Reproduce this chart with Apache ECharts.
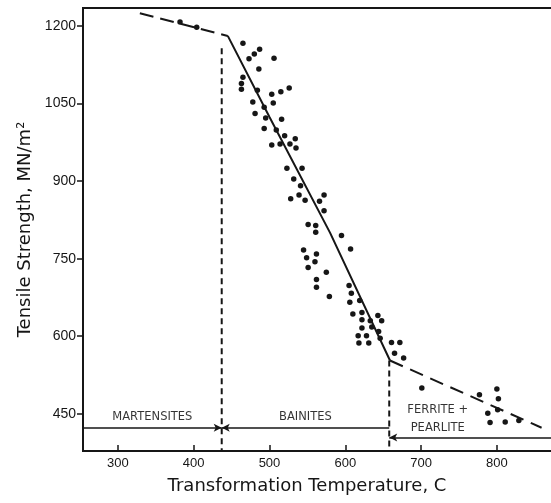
<!DOCTYPE html>
<html>
<head>
<meta charset="utf-8">
<title>Tensile strength vs transformation temperature</title>
<script src="https://cdn.jsdelivr.net/npm/echarts@6.0.0/dist/echarts.min.js"></script>
<style>
  html, body { margin: 0; padding: 0; background: #fff; }
  #chart { width: 551px; height: 503px; }
</style>
</head>
<body>
<div id="chart"></div>
<script>
  // tick labels
  var tempTicks = [300, 400, 500, 600, 700, 800]
  var strengthTicks = [450, 600, 750, 900, 1050, 1200]

  // test points, temperature (C) and tensile strength (MN/m2)
  var pointTemp = [
    382, 404, 465, 487, 480, 473, 506, 486, 465, 463,
    463, 484, 503, 515, 526, 478, 505, 493, 481, 495,
    516, 493, 509, 520, 534, 503, 514, 527, 535, 523,
    543, 532, 541, 539, 528, 547, 566, 572, 572, 551,
    561, 561, 595, 607, 545, 562, 549, 560, 551, 575,
    562, 562, 579, 605, 608, 606, 619, 610, 622, 622,
    643, 648, 622, 633, 635, 617, 628, 644, 646, 618,
    631, 661, 672, 665, 677, 701, 777, 800, 802, 801,
    788, 791, 811, 829
  ]
  var pointStrength = [
    1208, 1198, 1167, 1155, 1146, 1137, 1138, 1117, 1101, 1089,
    1078, 1076, 1068, 1073, 1080, 1053, 1051, 1043, 1031, 1022,
    1020, 1002, 999, 988, 982, 970, 972, 972, 964, 925,
    925, 904, 891, 873, 866, 863, 861, 873, 843, 816,
    814, 801, 795, 769, 767, 759, 752, 744, 733, 724,
    710, 695, 677, 698, 683, 666, 669, 643, 646, 632,
    640, 630, 616, 630, 618, 601, 601, 609, 596, 587,
    587, 588, 588, 567, 558, 500, 487, 498, 479, 458,
    451, 433, 434, 437
  ]

  // trend lines
  var lowTemp = [329, 445]
  var lowStrength = [1225, 1181]
  var bainiteTemp = [445, 500, 580, 659]
  var bainiteStrength = [1181, 1024, 800, 553]
  var highTemp = [659, 859]
  var highStrength = [553, 423]

  // microstructure regions
  var phaseNames = ['MARTENSITES', 'BAINITES', 'FERRITE +\nPEARLITE']
  var phaseFrom = [254, 437, 658]
  var phaseTo = [437, 658, 878]
  var phaseLevel = [423, 423, 404]
  var boundaryTemp = [437, 658]
  var boundaryTop = [1157, 553]

  var xMin = 254, xMax = 878, yMin = 378, yMax = 1235
  var ink = '#161616'

  function pairs (xs, ys) {
    return xs.map(function (x, i) { return [x, ys[i]] })
  }

  var series = [
    {
      type: 'scatter',
      data: pairs(pointTemp, pointStrength),
      symbolSize: 5.5,
      itemStyle: { color: ink, opacity: 1 },
      markLine: {
        silent: true,
        animation: false,
        symbolSize: [6, 8],
        label: { show: false },
        lineStyle: { color: ink, width: 1.5, type: 'solid' },
        data: [
          [{ coord: [phaseFrom[0], phaseLevel[0]], symbol: 'none' }, { coord: [phaseTo[0], phaseLevel[0]], symbol: 'arrow' }],
          [{ coord: [phaseFrom[1], phaseLevel[1]], symbol: 'arrow' }, { coord: [phaseTo[1], phaseLevel[1]], symbol: 'none' }],
          [{ coord: [phaseFrom[2], phaseLevel[2]], symbol: 'arrow' }, { coord: [phaseTo[2], phaseLevel[2]], symbol: 'none' }]
        ]
      }
    },
    {
      type: 'line',
      data: pairs(lowTemp, lowStrength),
      symbol: 'none',
      lineStyle: { color: ink, width: 2, type: [14, 7] }
    },
    {
      type: 'line',
      data: pairs(bainiteTemp, bainiteStrength),
      symbol: 'none',
      lineStyle: { color: ink, width: 2 }
    },
    {
      type: 'line',
      data: pairs(highTemp, highStrength),
      symbol: 'none',
      lineStyle: { color: ink, width: 2, type: [14, 8] }
    },
    {
      type: 'scatter',
      symbolSize: 0,
      itemStyle: { color: 'transparent' },
      silent: true,
      data: [
        [(phaseFrom[0] + phaseTo[0]) / 2, phaseLevel[0] + 21, phaseNames[0]],
        [(phaseFrom[1] + phaseTo[1]) / 2, phaseLevel[1] + 20, phaseNames[1]],
        [722, phaseLevel[2] + 36, phaseNames[2]]
      ],
      label: {
        show: true,
        position: 'inside',
        formatter: function (p) { return p.value[2] },
        color: '#000',
        fontFamily: 'DejaVu Sans',
        fontSize: 11.5,
        lineHeight: 18,
        align: 'center'
      }
    }
  ]

  boundaryTemp.forEach(function (t, i) {
    series.push({
      type: 'line',
      data: [[t, boundaryTop[i]], [t, yMin]],
      symbol: 'none',
      lineStyle: { color: ink, width: 2, type: [6, 4] }
    })
  })

  function plain (v) { return String(v) }

  var option = {
    animation: false,
    grid: {
      left: 83, top: 8, width: 473, bottom: 52,
      outerBoundsMode: 'none',
      show: true, borderColor: ink, borderWidth: 2
    },
    xAxis: {
      type: 'value',
      min: xMin, max: xMax,
      name: 'Transformation Temperature, C',
      nameLocation: 'middle',
      nameGap: 26,
      nameTextStyle: { fontFamily: 'DejaVu Sans', fontSize: 18, color: ink, padding: [0, 25, 0, 0] },
      axisLine: { lineStyle: { color: ink, width: 2 } },
      axisTick: { inside: true, length: 6, customValues: tempTicks, lineStyle: { color: ink, width: 1.5 } },
      axisLabel: { customValues: tempTicks, formatter: plain, margin: 6, fontFamily: 'Liberation Sans', fontSize: 13, color: ink },
      splitLine: { show: false }
    },
    yAxis: {
      type: 'value',
      min: yMin, max: yMax,
      name: 'Tensile Strength, MN/m²',
      nameLocation: 'middle',
      nameGap: 47,
      nameTextStyle: { fontFamily: 'DejaVu Sans', fontSize: 18, color: ink },
      axisLine: { lineStyle: { color: ink, width: 2 } },
      axisTick: { inside: false, length: 6, customValues: strengthTicks, lineStyle: { color: ink, width: 1.5 } },
      axisLabel: { customValues: strengthTicks, formatter: plain, margin: 7, fontFamily: 'Liberation Sans', fontSize: 14, color: ink },
      splitLine: { show: false }
    },
    series: series
  }

  var chart = echarts.init(document.getElementById('chart'))
  chart.setOption(option)
</script>
</body>
</html>
